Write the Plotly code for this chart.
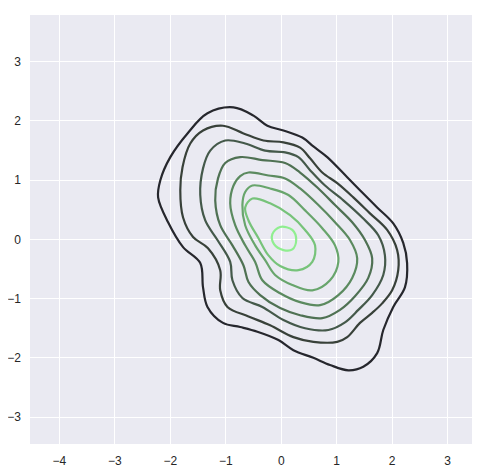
import plotly.graph_objects as go

# contour lines of the kde, outer (lowest density) to inner
level_x = [
    [-0.86, -0.50, -0.25, 0.04, 0.38, 0.58, 0.83, 1.19, 1.42, 1.73, 2.02, 2.20, 2.27, 2.23, 2.02, 1.84, 1.73, 1.48, 1.21, 0.88, 0.58, 0.22, -0.05, -0.43, -0.74, -1.05, -1.33, -1.41, -1.46, -1.77, -2.04, -2.22, -2.18, -2.00, -1.69, -1.33],
    [-1.05, -0.68, -0.32, 0.04, 0.34, 0.52, 0.74, 1.01, 1.30, 1.60, 1.91, 2.09, 2.11, 2.00, 1.82, 1.64, 1.42, 1.19, 1.01, 0.58, 0.22, -0.20, -0.59, -0.97, -1.10, -1.10, -1.32, -1.59, -1.77, -1.82, -1.78, -1.64, -1.41],
    [-1.01, -0.65, -0.29, 0.07, 0.31, 0.52, 0.79, 1.12, 1.46, 1.75, 1.87, 1.84, 1.64, 1.39, 1.15, 0.85, 0.43, 0.04, -0.34, -0.70, -0.88, -0.92, -1.15, -1.37, -1.46, -1.41, -1.28],
    [-0.74, -0.34, 0.07, 0.34, 0.67, 0.97, 1.28, 1.51, 1.64, 1.57, 1.33, 1.06, 0.74, 0.34, -0.02, -0.38, -0.59, -0.68, -0.88, -1.10, -1.19, -1.14, -1.01],
    [-0.59, -0.23, 0.07, 0.34, 0.67, 0.97, 1.24, 1.37, 1.28, 1.03, 0.70, 0.34, -0.02, -0.34, -0.47, -0.65, -0.83, -0.92, -0.86, -0.74],
    [-0.52, -0.20, 0.13, 0.43, 0.74, 0.97, 1.03, 0.88, 0.56, 0.20, -0.11, -0.29, -0.47, -0.65, -0.70, -0.65],
    [-0.52, -0.20, 0.16, 0.43, 0.61, 0.56, 0.31, -0.02, -0.23, -0.41, -0.59, -0.65],
    [-0.02, 0.20, 0.27, 0.20, 0.04, -0.13, -0.16],
]
level_y = [
    [2.23, 2.09, 1.92, 1.84, 1.72, 1.57, 1.39, 1.05, 0.83, 0.54, 0.27, -0.06, -0.40, -0.81, -1.14, -1.53, -1.92, -2.15, -2.21, -2.12, -2.00, -1.87, -1.70, -1.56, -1.48, -1.41, -1.14, -0.81, -0.40, -0.13, 0.29, 0.71, 1.00, 1.39, 1.79, 2.13],
    [1.92, 1.79, 1.67, 1.64, 1.55, 1.37, 1.13, 0.95, 0.71, 0.44, 0.16, -0.18, -0.52, -0.86, -1.08, -1.24, -1.41, -1.65, -1.73, -1.73, -1.65, -1.45, -1.30, -1.14, -0.86, -0.52, -0.15, 0.04, 0.37, 0.83, 1.22, 1.62, 1.84],
    [1.67, 1.62, 1.50, 1.47, 1.39, 1.17, 0.91, 0.66, 0.37, 0.07, -0.27, -0.60, -0.94, -1.19, -1.40, -1.53, -1.50, -1.36, -1.14, -0.99, -0.69, -0.38, -0.01, 0.32, 0.75, 1.20, 1.50],
    [1.39, 1.34, 1.29, 1.13, 0.86, 0.58, 0.29, -0.01, -0.32, -0.65, -0.96, -1.19, -1.33, -1.28, -1.16, -0.94, -0.72, -0.44, -0.10, 0.24, 0.66, 1.03, 1.29],
    [1.13, 1.08, 1.03, 0.86, 0.58, 0.29, -0.01, -0.32, -0.65, -0.94, -1.11, -1.06, -0.91, -0.69, -0.38, -0.10, 0.24, 0.61, 0.91, 1.07],
    [0.91, 0.86, 0.75, 0.49, 0.19, -0.10, -0.38, -0.69, -0.86, -0.77, -0.60, -0.35, -0.10, 0.24, 0.58, 0.80],
    [0.69, 0.61, 0.41, 0.16, -0.10, -0.38, -0.52, -0.45, -0.27, 0.02, 0.32, 0.54],
    [0.21, 0.16, -0.01, -0.17, -0.18, -0.08, 0.09],
]
level_colors = ["#26272d", "#384139", "#44594a", "#4f7153", "#5b8a5f", "#68a56c", "#77c37a", "#90ee90"]

x_ticks = [-4, -3, -2, -1, 0, 1, 2, 3]
y_ticks = [-3, -2, -1, 0, 1, 2, 3]

fig = go.Figure()

for xs, ys, col in zip(level_x, level_y, level_colors):
    fig.add_trace(go.Scatter(
        x = xs + xs[:1],
        y = ys + ys[:1],
        mode = 'lines',
        line = dict(color=col, width=2.2, shape='spline', smoothing=1.0),
        hoverinfo = 'skip',
        showlegend = False))

# page body has an 8px margin, so the figure sits 8px in from the corner
fig.update_layout(
    width = 481,
    height = 467,
    plot_bgcolor = '#eaeaf2',
    paper_bgcolor = 'white',
    margin = dict(l=22, r=17, t=7, b=31),
    font = dict(family='Liberation Sans, Arial', size=12, color='#262626'),
    xaxis = dict(
        range = [-4.53, 3.44],
        tickvals = x_ticks,
        gridcolor = 'white',
        gridwidth = 1,
        zeroline = False,
        showline = False,
        ticks = '',
        ticklabelstandoff = 8,
        automargin = False,
        ),
    yaxis = dict(
        range = [-3.455, 3.79],
        tickvals = y_ticks,
        gridcolor = 'white',
        gridwidth = 1,
        zeroline = False,
        showline = False,
        ticks = '',
        ticklabelstandoff = 8,
        automargin = False,
        ),
    )

fig.write_html("out.html")
